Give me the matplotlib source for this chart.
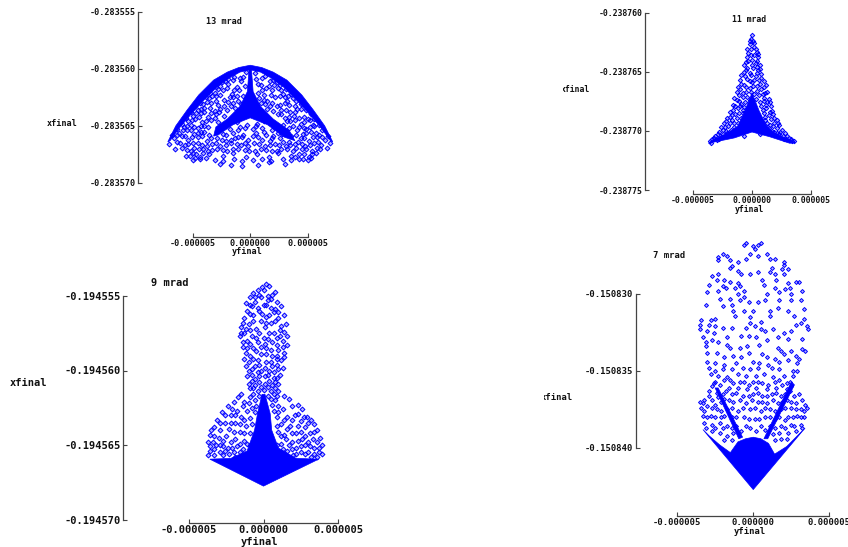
import matplotlib
matplotlib.use('Agg')
import matplotlib.pyplot as plt
import numpy as np
from matplotlib.transforms import Bbox

W, H = 848, 547
BLUE = '#0000ff'
AXC = '#444444'

# all point values below in units of 1e-6 (yfinal, xfinal - base)
base_13 = -0.283560
ticks_13 = [-0.283570, -0.283565, -0.283560, -0.283555]
arc_13 = [(-7.2,-6.4),(-6.5,-5.0),(-5.5,-3.6),(-4.5,-2.3),(-3.2,-1.0),(-2,-0.3),(-1,0.1),(0,0.3),(1,0.1),(2,-0.3),(3.2,-1.0),(4.5,-2.3),(5.5,-3.6),(6.5,-5.0),(7.2,-6.4),
          (7.0,-6.3),(6.2,-5.2),(5.1,-3.9),(4.1,-2.8),(2.9,-1.6),(1.8,-0.8),(0.9,-0.3),(0,-0.1),(-0.9,-0.3),(-1.8,-0.8),(-2.9,-1.6),(-4.1,-2.8),(-5.1,-3.9),(-6.2,-5.2),(-7.0,-6.3)]
core_13 = [(-0.1,0),(0.1,0),(0.25,-2.0),(0.9,-3.3),(2.0,-4.4),(3.4,-5.4),(3.9,-6.3),(3.0,-6.0),(1.5,-4.9),(0,-4.3),(-1.5,-4.9),(-2.8,-5.8),(-3.2,-5.9),(-3.0,-5.1),(-2.0,-4.4),(-0.9,-3.3),(-0.25,-2.0)]
pts_13 = [(-2.6,-1.5),(-1.9,-1.3),(-1.2,-1.6),(-0.8,-1.1),(0.9,-1.4),(1.4,-1.7),(2.1,-1.4),(2.7,-1.9),
(-3.1,-2.1),(-2.4,-1.9),(-1.6,-2.2),(-1.0,-1.9),(0.7,-2.1),(1.2,-2.3),(1.9,-1.9),(2.9,-2.2),(3.3,-2.4),
(-3.6,-2.6),(-3.0,-2.4),(-2.3,-2.7),(-1.8,-2.5),(-1.1,-2.8),(-0.6,-2.4),(0.8,-2.6),(1.5,-2.8),(2.2,-2.5),(3.2,-2.8),(3.7,-2.6),
(-4.1,-3.1),(-3.4,-3.0),(-2.8,-3.2),(-1.5,-3.0),(-0.8,-3.1),(0.9,-3.0),(1.3,-3.1),(2.6,-3.2),(3.0,-3.0),(3.9,-3.3),
(-4.6,-3.6),(-4.0,-3.4),(-3.1,-3.7),(-2.6,-3.5),(-2.0,-3.6),(-1.3,-3.4),(1.5,-3.5),(2.0,-3.7),(2.7,-3.6),(3.5,-3.8),(4.4,-3.5),
(-5.0,-4.1),(-4.3,-3.9),(-3.7,-4.2),(-3.0,-4.0),(-2.3,-4.1),(2.4,-4.0),(3.0,-4.3),(3.8,-4.1),(4.7,-4.2),
(-5.4,-4.6),(-4.8,-4.4),(-4.2,-4.7),(-3.4,-4.5),(-2.8,-4.7),(-1.2,-4.7),(-0.3,-4.9),(0.6,-4.8),(1.2,-4.6),(2.9,-4.9),(3.5,-4.6),(4.4,-4.8),(5.2,-4.5),
(-5.8,-5.1),(-5.2,-4.9),(-4.6,-5.2),(-4.0,-5.0),(-1.8,-5.3),(-0.9,-5.1),(0.2,-5.3),(1.0,-5.2),(1.9,-5.4),(3.4,-5.2),(4.3,-5.1),(4.9,-5.3),(5.6,-5.0),
(-6.2,-5.6),(-5.5,-5.4),(-4.9,-5.7),(-4.3,-5.5),(-2.4,-5.7),(-1.5,-5.6),(-0.6,-5.8),(0.5,-5.6),(1.4,-5.8),(2.4,-5.6),(4.6,-5.7),(5.3,-5.5),(6.0,-5.8),
(-6.7,-6.1),(-6.0,-5.9),(-5.4,-6.2),(-4.6,-6.0),(-3.8,-6.3),(-2.9,-6.1),(-2.1,-6.3),(-1.1,-6.0),(-0.2,-6.2),(0.7,-6.0),(1.7,-6.3),(2.6,-6.1),(3.4,-6.4),(4.4,-6.1),(5.1,-6.3),(5.8,-6.0),(6.5,-6.2),
(-7.1,-6.6),(-6.4,-6.4),(-5.7,-6.7),(-5.0,-6.5),(-4.2,-6.7),(-3.3,-6.6),(-2.6,-6.8),(-1.7,-6.5),(-0.8,-6.7),(0.3,-6.5),(1.3,-6.8),(2.2,-6.6),(3.1,-6.8),(3.9,-6.6),(4.8,-6.8),(5.6,-6.5),(6.2,-6.7),(7.0,-6.5),
(-6.6,-7.0),(-6.0,-6.9),(-5.2,-7.2),(-4.5,-7.0),(-3.7,-7.2),(-2.9,-7.0),(-2.0,-7.2),(-1.1,-7.0),(-0.1,-7.2),(0.9,-7.0),(1.9,-7.2),(2.7,-7.0),(3.7,-7.2),(4.5,-7.0),(5.4,-7.2),(6.1,-7.0),(6.7,-6.9),
(-5.6,-7.6),(-5.0,-7.4),(-4.4,-7.7),(-3.6,-7.5),(-2.4,-7.6),(-1.5,-7.4),(-0.4,-7.7),(0.6,-7.5),(1.6,-7.7),(2.4,-7.4),(3.6,-7.6),(4.3,-7.5),(5.1,-7.7),(5.7,-7.4),
(-5.0,-8.0),(-4.4,-7.9),(-3.1,-8.0),(-2.4,-8.1),(-1.4,-7.9),(-0.7,-8.1),(0.2,-8.0),(1.0,-7.9),(1.8,-8.1),(2.9,-7.9),(3.6,-8.0),(4.3,-7.9),(5.0,-8.0),
(-2.6,-8.3),(-1.7,-8.4),(-0.7,-8.5),(0.7,-8.4),(1.6,-8.2),(3.0,-8.3),(0.5,-0.9),(-0.6,-0.7),(0.7,-1.3),(-0.5,-1.5)]
more_13 = [(-0.4,-0.3),(0.4,-0.4),(-1.4,-0.7),(1.3,-0.6),(-1.9,-0.9),(2.0,-1.0),(-2.5,-1.2),(2.6,-1.4),(-3.0,-1.6),(3.1,-1.8),(-3.5,-2.1),(3.6,-2.2),(-3.9,-2.5),(4.0,-2.8),(-4.4,-3.0),(4.4,-3.1),(-4.8,-3.3),(4.9,-3.6),(-5.2,-3.8),(5.3,-4.0),(-5.6,-4.3),(5.6,-4.4),(-6.0,-4.8),(6.0,-4.9),(-6.4,-5.3),(6.3,-5.4),(-6.8,-5.8),(6.8,-5.9),
(-2.2,-1.1),(-1.5,-1.0),(-0.9,-0.8),(1.0,-0.8),(1.7,-1.1),(2.3,-1.2),(-2.8,-1.8),(-2.0,-1.7),(-1.4,-1.9),(1.6,-1.5),(2.4,-1.7),(3.0,-2.5),(-3.3,-2.4),(-2.6,-2.3),(-1.5,-2.5),(1.0,-1.9),(1.8,-2.3),(2.6,-2.4),(-3.8,-2.9),(-3.0,-2.8),(-1.9,-2.9),(-1.2,-2.4),(1.2,-2.7),(1.9,-3.0),(3.4,-3.2),(4.1,-3.5),(-4.3,-3.5),(-3.5,-3.4),(-2.3,-3.3),(-1.7,-3.3),(1.7,-3.3),(2.3,-3.3),(3.1,-3.6),(3.9,-3.8),(-4.7,-3.9),(-4.0,-3.8),(-3.4,-3.9),(-2.7,-3.8),(2.7,-4.0),(3.4,-4.2),(4.3,-4.3),(5.0,-4.4),(-5.1,-4.5),(-4.5,-4.2),(-3.9,-4.6),(-3.1,-4.3),(3.2,-4.6),(3.9,-4.5),(4.7,-4.7),(5.5,-4.9),
(-5.5,-5.0),(-4.9,-5.1),(-4.3,-5.0),(-3.7,-5.1),(3.7,-5.0),(4.1,-5.4),(4.7,-5.2),(5.2,-5.1),(-5.9,-5.4),(-5.2,-5.4),(-4.6,-5.6),(-4.0,-5.5),(4.0,-5.8),(4.9,-5.6),(5.7,-5.6),(-6.4,-5.8),(-5.7,-5.9),(-5.1,-6.0),(-4.2,-5.9),(-3.6,-5.8),(3.6,-5.9),(4.7,-6.1),(5.5,-6.0),(6.3,-6.0),
(-1.1,-5.4),(-0.5,-5.2),(0.5,-5.0),(1.2,-5.5),(2.0,-5.9),(2.8,-5.7),(-2.1,-5.8),(-1.3,-6.1),(-0.7,-6.0),(0.2,-5.9),(1.0,-6.2),(1.9,-6.1),(2.9,-6.4),(-3.4,-6.1),(-2.5,-6.2),(-1.7,-6.2),(-0.5,-6.5),(0.8,-6.6),(1.7,-6.7),(2.5,-6.7),(-3.0,-6.5),(-2.1,-6.7),(-1.2,-6.6),(-0.2,-6.8),(3.5,-6.7),(4.2,-6.4),(4.5,-6.6),(5.2,-6.7),(5.9,-6.4),(-6.1,-6.5),(-5.4,-6.6),(-4.6,-6.5),(-3.8,-6.8),(-5.5,-7.1),(-4.9,-6.9),(-4.1,-7.0),(-3.3,-7.1),(-2.4,-7.1),(-1.5,-7.0),(-0.5,-7.1),(0.4,-7.2),(1.4,-7.1),(2.3,-7.2),(3.2,-7.0),(4.0,-6.9),(4.9,-7.0),(5.8,-6.9),(-5.3,-7.6),(-4.7,-7.5),(-4.1,-7.4),(-4.8,-7.8),(-3.9,-7.8),(3.9,-7.7),(4.7,-7.5),(5.4,-7.5),(4.6,-7.9),(5.3,-7.8)]

base_11 = -0.238770
ticks_11 = [-0.238775, -0.238770, -0.238765, -0.238760]
core_11 = [(0,3.2),(0.6,1.7),(1.2,0.5),(1.8,-0.1),(2.6,-0.5),(3.7,-1.0),(3.2,-1.05),(1.5,-0.5),(0,-0.1),(-1.5,-0.6),(-3.7,-1.05),(-3.3,-0.75),(-2.1,-0.2),(-1.2,0.4),(-0.6,1.7)]
pts_11 = [(0,8.1),(-0.1,7.8),(0.1,7.6),(-0.2,7.3),(0.2,7.1),(-0.1,6.9),(0.4,6.7),(-0.3,6.6),(0.2,6.4),(-0.4,6.2),(0.5,6.2),(0,6.0),(-0.3,5.9),(0.3,5.7),(-0.7,5.6),(0.7,5.6),(-0.4,5.3),(0.1,5.3),(0.5,5.1),(-0.7,5.0),(-0.2,4.9),(0.8,4.8),(-0.9,4.7),
(0.3,4.6),(-0.4,4.4),(0.6,4.3),(-1.0,4.3),(1.0,4.2),(0,4.1),(-0.7,3.9),(0.4,3.8),(1.2,3.9),(-1.2,3.7),(-0.2,3.6),(0.8,3.5),(1.3,3.3),(-1.3,3.3),(-0.8,3.2),(0.2,3.1),(0.6,3.0),(-0.4,2.9),(1.0,2.8),(-1.5,2.8),(1.4,2.7),(-1.1,2.5),(-0.6,2.4),(0.7,2.4),(1.2,2.2),(-1.6,2.2),(1.6,2.1),
(-1.2,1.9),(-0.8,1.8),(0.9,1.8),(1.5,1.6),(-1.9,1.6),(-1.4,1.4),(1.8,1.4),(1.1,1.2),(-0.9,1.1),(-2.1,1.1),(1.6,1.0),(2.1,0.9),(-1.7,0.9),(-1.2,0.7),(1.3,0.7),(-2.4,0.7),(2.3,0.5),(1.8,0.4),(-2.0,0.4),(-1.5,0.3),(-2.6,0.3),(1.4,0.2),(2.5,0.1),(-2.2,0.0),(-1.3,0.0),(1.9,-0.1),(-2.8,-0.1),(-1.8,-0.2),(2.8,-0.2),(2.3,-0.3),(-2.5,-0.3),
(-3.1,-0.4),(3.0,-0.4),(-0.7,-0.4),(0.7,-0.3),(3.3,-0.7),(-3.4,-0.7),(-2.8,-0.7),(2.7,-0.7),(3.6,-0.9),(-3.6,-0.9)]
more_11 = [(-0.2,7.6),(0.2,7.4),(0.3,6.9),(-0.4,6.9),(-0.1,6.4),(0.5,6.5),(-0.5,5.8),(0.4,5.9),(0.0,5.6),(0.4,5.4),(-0.5,5.1),(0.7,5.2),(-0.1,4.7),(0.4,4.9),(-0.6,4.6),(0.8,4.5),(0.2,4.3),(-0.2,4.2),(-0.9,4.0),(0.7,4.0),(0.1,3.8),(-0.5,3.7),(1.0,3.7),(-1.0,3.5),(0.4,3.4),(-0.1,3.3),(-0.5,3.3),(1.1,3.2),(-1.1,3.0),(0.9,3.1),(-0.8,2.9),(-1.3,2.6),(0.3,2.7),(1.3,2.4),(-0.2,2.6),(-0.9,2.3),(1.0,2.5),(-1.4,2.1),(0.8,2.1),(1.5,2.4),(-0.7,2.0),(-1.0,2.1),(1.7,1.7),(-1.6,1.8),(1.2,1.9),(-1.7,1.3),(-0.8,1.5),(1.0,1.5),(-1.1,1.5),(1.9,1.1),(1.4,1.3),(-1.3,1.1),(-1.9,1.2),(-1.9,0.7),(-1.5,0.7),(1.9,0.7),(1.1,0.9),(-2.2,0.8),(2.2,0.7),(1.5,0.5),(-2.3,0.3),(-1.8,0.1),(2.1,0.2),(1.7,0.0),(2.4,-0.1),(-2.5,0.1),(-2.1,-0.2),(-2.9,-0.3),(2.6,-0.4),(2.1,-0.2),(3.1,-0.6),(-3.2,-0.6),(-2.6,-0.5),(2.9,-0.7),(-3.0,-0.8),(3.4,-0.9),(-3.5,-1.0)]

base_9 = -0.194560
ticks_9 = [-0.194570, -0.194565, -0.194560, -0.194555]
stem_9 = [(-0.1,-1.6),(0.1,-1.6),(0.45,-2.9),(0.55,-4.0),(1.0,-5.2),(2.2,-5.9),(3.7,-5.95),(0,-7.76),(-3.6,-5.95),(-2.2,-5.9),(-1.1,-5.4),(-0.6,-4.0),(-0.4,-2.9)]
pts_9 = [(0.2,5.8),(0.4,5.7),(-0.1,5.6),(-0.4,5.4),(-0.7,5.2),(0.6,5.1),(0.8,5.3),(-0.9,4.9),(-0.2,4.9),(0.3,4.7),(-1.2,4.5),(-0.6,4.6),(0.9,4.6),(-0.8,4.3),(0.0,4.4),(0.5,4.2),(1.2,4.3),(-1.1,4.0),(-0.3,4.0),(0.7,3.9),(1.4,3.7),(-0.7,3.7),(0.2,3.6),(-1.3,3.5),(1.0,3.5),(-0.2,3.3),(0.5,3.2),(1.5,3.1),(-1.0,3.1),(-1.5,2.9),(-0.5,2.8),(0.1,2.9),(1.1,2.7),(0.7,2.5),(-1.3,2.5),(-1.6,2.3),(-0.8,2.3),(1.6,2.3),(0.0,2.2),(-1.1,2.0),(1.3,2.0),(-0.4,1.9),(0.6,1.9),(1.6,1.7),(-1.4,1.6),(-0.7,1.5),(0.2,1.5),(1.0,1.4),(-1.2,1.2),(1.4,1.2),(-0.2,1.1),(0.6,1.0),(-1.3,0.8),(-0.7,0.8),(1.2,0.7),(0.2,0.6),(-0.3,0.4),(0.9,0.4),(-1.2,0.3),(1.3,0.2),(-0.8,0.1),(0.4,0.0),(-0.4,-0.1),(1.1,-0.3),(-1.1,-0.4),(0.7,-0.5),(-0.6,-0.6),(0.1,-0.4),(-1.0,-0.9),(1.0,-0.9),(0.6,-1.0),(-0.7,-1.2),(-1.5,-1.6),(-1.7,-1.8),(-2.0,-2.1),(-1.3,-2.1),(1.4,-1.7),(1.7,-1.9),(1.0,-1.4),(0.8,-2.0),(-0.9,-1.8),(2.3,-2.3),(1.9,-2.4),(1.3,-2.6),(2.6,-2.6),
(-2.4,-2.4),(-1.8,-2.7),(-1.1,-2.7),(-2.8,-2.8),(-2.2,-3.0),(-1.5,-3.1),(-0.9,-3.2),(0.9,-3.1),(1.6,-3.1),(2.1,-3.0),(2.9,-3.1),(3.2,-3.3),(2.5,-3.4),(-3.1,-3.3),(-2.6,-3.5),(-1.9,-3.5),(-1.2,-3.7),(1.2,-3.6),(1.8,-3.7),(3.4,-3.6),(2.8,-3.8),(-3.3,-3.8),(-2.9,-4.0),(-2.3,-3.9),(-1.6,-4.1),(-0.9,-4.2),(1.0,-4.1),(2.2,-4.2),(3.1,-4.2),(3.6,-4.0),(-3.6,-4.3),(-3.0,-4.5),(-2.5,-4.4),(-1.9,-4.6),(-1.3,-4.7),(1.5,-4.6),(1.9,-4.8),(2.6,-4.6),(3.3,-4.6),(3.8,-4.5),(-3.7,-4.8),(-3.2,-5.0),(-2.7,-5.1),(-2.1,-5.2),(2.2,-5.2),(2.8,-5.0),(3.4,-5.2),(3.9,-5.0),(-3.6,-5.4),(-2.9,-5.5),(-2.3,-5.6),(-1.6,-5.5),(1.6,-5.4),(2.5,-5.5),(3.0,-5.5),(3.7,-5.5),(-3.7,-5.7),(3.9,-5.6),(-0.9,-5.0),(0.9,-5.0),(-1.0,-5.6),(1.2,-4.9)]
more_9 = [(0.0,5.4),(-0.3,5.1),(0.3,5.0),(-0.6,4.9),(0.5,4.8),(-0.9,4.4),(0.2,4.4),(0.8,4.1),(-0.4,4.2),(1.0,3.9),(-0.9,3.8),(-0.1,3.8),(0.4,3.7),(-1.4,3.2),(0.8,3.3),(0.2,3.2),(-0.7,3.3),(1.2,3.0),(-1.2,2.8),(-0.3,2.5),(0.4,2.5),(1.4,2.6),(-1.5,2.5),(-0.9,2.7),(0.9,2.2),(-0.5,2.2),(0.3,2.1),(1.1,2.3),(-1.4,1.9),(-0.9,1.8),(0.1,1.8),(0.9,1.7),(-0.2,1.6),(1.3,1.6),(-1.1,1.5),(0.5,1.4),(1.4,0.9),(-0.9,1.0),(0.2,1.1),(0.9,1.0),(-0.5,1.3),(-1.0,0.6),(-0.4,0.7),(0.5,0.6),(0.9,0.8),(-0.6,0.3),(0.1,0.2),(0.6,0.3),(1.0,0.1),(-1.0,0.0),(-0.2,0.0),(0.7,-0.1),(-0.8,-0.3),(0.3,-0.3),(0.9,-0.5),(-0.3,-0.4),(-0.8,-0.7),(0.4,-0.7),(-0.3,-0.8),(0.8,-0.8),(0.1,-0.9),(-0.6,-1.0),(-0.2,-1.1),(0.3,-1.1),(0.8,-1.2),(-0.9,-1.2),(-0.4,-1.4),(0.5,-1.4),(0.0,-1.3),(-0.7,-1.6),(0.7,-1.6),(-0.3,-1.7),(0.3,-1.7),(-0.6,-2.0),(0.5,-1.9),(0.9,-1.7),(-1.0,-2.2),(-0.5,-2.4),(0.6,-2.3),(1.0,-2.4),(-0.8,-2.5),(0.7,-2.7),(-0.6,-2.8),(1.0,-2.8),(-1.4,-2.4),(-2.1,-2.6),(-2.6,-3.0),(-1.9,-3.0),(-1.3,-3.3),(-0.8,-3.6),(1.4,-3.3),(1.9,-3.3),(2.3,-2.9),(2.7,-3.1),(3.0,-3.5),(2.3,-3.7),(1.6,-3.9),(0.9,-3.7),(-2.9,-3.5),(-2.2,-3.5),(-1.6,-3.6),(-3.5,-4.0),(-2.0,-4.1),(-1.3,-4.2),(1.4,-4.3),(1.9,-4.2),(2.5,-4.1),(3.4,-4.1),(2.8,-4.4),(-3.3,-4.4),(-2.7,-4.7),(-2.2,-4.8),(-1.6,-4.9),(-1.1,-4.9),(1.2,-4.4),(1.7,-5.0),(2.3,-4.7),(3.0,-4.8),(3.6,-4.8),(-3.4,-4.8),(-3.6,-5.1),(-2.9,-5.0),(-2.4,-5.2),(-1.8,-5.1),(1.9,-5.3),(2.5,-5.1),(3.1,-5.1),(3.7,-5.2),(-3.3,-5.3),(-2.6,-5.4),(-2.0,-5.5),(-1.4,-5.3),(1.3,-5.3),(2.2,-5.6),(2.8,-5.6),(3.4,-5.6),(-3.3,-5.7),(-2.7,-5.7),(-1.9,-5.8),(2.0,-5.7),(3.2,-5.8),(3.6,-5.8)]

base_7 = -0.150835
ticks_7 = [-0.150840, -0.150835, -0.150830]
core_7 = [(-3.3,-3.8),(-2.9,-4.2),(-2.2,-4.8),(-1.5,-5.3),(-1.0,-4.6),(-0.5,-4.4),(0,-4.3),(0.5,-4.4),(1.0,-4.7),(1.4,-5.4),(2.2,-4.9),(3.0,-4.1),(3.4,-3.7),(0,-7.7)]
vee_7 = [(-2.5,-1.1),(-2.3,-1.1),(-0.7,-4.3),(-0.95,-4.4)]
vee2_7 = [(2.5,-0.7),(2.7,-0.9),(0.95,-4.4),(0.7,-4.4)]
pts_7 = [(-0.6,8.2),(-0.5,8.3),(0,8.1),(0.3,8.2),(0.5,8.3),(0.1,7.9),(-2.3,7.4),(-1.7,7.5),(-2.0,7.6),(-0.2,7.6),(0.3,7.5),(0.9,7.6),(1.1,7.3),(1.4,7.3),(-2.3,7.2),(-1.5,7.2),(-1.0,7.1),(2.0,7.1),(-0.5,7.3),(2.0,6.9),(-1.4,6.8),(-1.5,6.7),(1.2,6.7),(1.9,6.6),(2.3,6.6),(-1.0,6.5),(-0.8,6.3),(-0.2,6.3),(0.3,6.4),(-2.7,6.2),(-2.3,6.3),(1.1,6.4),(1.4,6.3),(2.0,6.3),(-2.4,5.9),(-1.9,5.9),(-1.5,5.8),(-1.0,5.7),(-0.9,5.5),(0.6,5.9),(0.7,5.6),(1.5,5.9),(2.3,5.7),(2.8,5.8),(3.0,5.8),(-2.9,5.6),(-2.0,5.5),(-1.8,5.4),(-1.2,5.4),(-0.6,5.2),(1.4,5.4),(2.1,5.3),(2.4,5.4),(-3.0,5.1),(-2.3,5.2),(-1.0,5.0),(-0.6,4.8),(0.9,5.0),(1.7,5.1),(2.5,5.0),(3.2,5.2),(-2.2,4.7),(-1.5,4.7),(-0.9,4.6),(-0.3,4.5),(0.3,4.5),(0.8,4.6),(1.7,4.6),(2.5,4.6),(3.1,4.6),(-3.1,4.3),(-2.0,4.2),(-1.4,4.3),(-1.3,3.9),(-0.6,3.9),(0,3.9),(1.1,3.9),(1.6,4.1),(2.3,3.9),(3.3,4.0),(-1.2,3.6),(-0.2,3.5),(1.1,3.6),(2.7,3.6),(3.3,3.4),(-3.4,3.3),(-2.8,3.3),(-2.5,3.4),(-3.5,3.0),(-2.9,3.0),(-0.2,3.1),(0.1,2.9),(0.5,3.2),(-0.5,2.8),(2.8,3.0),(3.1,3.1),(3.5,2.9),(-3.5,2.7),(-3.0,2.6),(-2.5,2.9),(-2.6,2.5),(-2.0,2.8),(-1.4,2.8),(-0.8,2.3),(0.5,2.7),(0.8,2.6),(1.3,2.7),(2.0,2.5),(2.5,2.6),(3.6,2.7),(-3.3,2.2),(-3.1,1.9),(-2.7,2.0),(-1.7,2.2),(-0.3,2.3),(0.2,2.2),(0.9,2.0),(1.6,2.2),(2.3,2.1),(3.2,2.1),
(-3.1,1.6),(-2.3,1.9),(-1.7,1.7),(-1.5,1.5),(-0.9,1.5),(-0.4,1.6),(0.4,1.7),(1.6,1.5),(1.8,1.3),(2.5,1.3),(3.2,1.4),(3.4,1.3),(-3.0,1.2),(-2.4,1.2),(-1.9,0.9),(-1.3,1.0),(-0.8,0.9),(-0.3,1.2),(0.6,1.1),(0.9,0.9),(1.4,0.8),(2.0,1.1),(2.8,1.0),(3.0,0.8),(-3.0,0.6),(-2.5,0.5),(-1.9,0.4),(-1.1,0.5),(0.0,0.6),(0.4,0.5),(1.0,0.4),(1.7,0.6),(2.3,0.7),(2.9,0.5),(-2.9,0.2),(-2.5,0.0),(-2.0,0.1),(-1.4,0.1),(-0.7,0.2),(-0.2,0.1),(0.3,0.2),(1.2,0.2),(1.7,0.1),(2.6,0.0),(2.9,0.0),(-2.8,-0.2),(-2.3,-0.3),(-1.7,-0.4),(-1.0,-0.2),(-0.5,-0.3),(0.2,-0.3),(0.7,-0.2),(1.3,-0.4),(2.0,-0.3),(2.6,-0.3),(-2.5,-0.7),(-1.9,-0.6),(-1.3,-0.8),(-0.6,-0.7),(0,-0.7),(0.6,-0.8),(1.4,-0.7),(1.9,-0.9),(2.4,-0.7),(-2.7,-1.0),(-1.6,-1.1),(-1.0,-1.1),(-0.4,-1.2),(0.2,-1.1),(0.9,-1.2),(1.5,-1.1),(2.2,-1.2),(2.5,-1.0),(-2.9,-1.3),(-2.4,-1.4),(-2.0,-1.5),(-1.4,-1.5),(-0.7,-1.6),(0,-1.5),(0.6,-1.6),(1.2,-1.5),(1.8,-1.6),(2.7,-1.6),(-3.2,-1.9),(-2.7,-1.9),(-2.1,-2.0),(-1.3,-2.0),(-0.5,-2.1),(0.3,-2.0),(0.9,-2.1),(1.9,-2.0),(2.5,-2.0),(3.2,-1.9),(-3.4,-2.4),(-3.0,-2.3),(-2.4,-2.5),(-1.7,-2.5),(-1.0,-2.6),(-0.2,-2.5),(0.5,-2.6),(1.1,-2.5),(1.8,-2.5),(2.5,-2.4),(3.1,-2.5),(3.5,-2.4),(-3.3,-2.9),(-2.8,-2.9),(-2.1,-3.0),(-1.4,-3.0),(-0.6,-3.0),(0.1,-3.1),(0.8,-3.0),(1.4,-3.1),(2.3,-3.0),(2.9,-2.9),(3.3,-3.0),(-3.2,-3.4),(-2.7,-3.5),(-2.2,-3.4),(-1.7,-3.6),(-1.1,-3.6),(-0.5,-3.6),(0.5,-3.6),(1.1,-3.6),(1.8,-3.6),(2.5,-3.5),(3.1,-3.5)]
more_7 = [(-2.6,-0.8),(-2.2,-0.9),(-1.5,-0.6),(-0.9,-0.7),(-0.3,-0.9),(0.3,-0.7),(1.0,-0.9),(1.7,-0.6),(2.2,-0.8),(-2.9,-1.6),(-2.3,-1.7),(-1.8,-1.3),(-1.1,-1.4),(-0.3,-1.6),(0.3,-1.4),(0.9,-1.6),(1.5,-1.4),(2.1,-1.5),(2.4,-1.3),(3.0,-1.5),(-3.5,-2.0),(-3.3,-2.1),(-2.5,-2.2),(-1.9,-1.8),(-1.6,-1.9),(-0.9,-1.9),(-0.1,-1.9),(0.6,-2.0),(1.3,-1.9),(1.6,-2.1),(2.2,-1.9),(2.8,-2.1),(3.4,-2.2),(-3.2,-2.6),(-2.7,-2.4),(-2.1,-2.6),(-1.4,-2.4),(-0.7,-2.4),(0.1,-2.4),(0.8,-2.4),(1.4,-2.6),(2.1,-2.4),(2.8,-2.5),(3.3,-2.6),(-3.0,-3.0),(-2.5,-3.0),(-1.9,-2.9),(-1.1,-3.0),(-0.3,-3.1),(0.4,-3.1),(1.1,-3.0),(1.7,-3.0),(2.1,-3.2),(2.6,-3.0),(3.1,-3.0),(-3.1,-3.7),(-2.5,-3.7),(-2.0,-3.7),(-1.4,-3.7),(-0.8,-3.9),(-0.2,-3.7),(0.2,-3.9),(0.8,-3.8),(1.4,-3.7),(2.1,-3.7),(2.7,-3.6),(3.2,-3.7),(-2.7,-3.9),(-2.2,-4.0),(-1.7,-4.2),(-1.3,-4.0),(1.3,-4.1),(1.7,-4.0),(2.3,-4.0),(2.8,-3.9),(-1.9,-4.5),(-1.4,-4.5),(1.4,-4.5),(1.8,-4.4),(2.2,-4.4)]


def to_fig(px, py):
    return px / W, 1 - py / H


def panel(box, spine_x, spine_y, ticks, base, pts, fills, fs, ms):
    # box is (x at -5e-6, x at +5e-6, y at top tick, y at bottom tick) in pixels
    x0, x1, ytop, ybot = box
    ax = fig.add_axes([x0 / W, 1 - ybot / H, (x1 - x0) / W, (ybot - ytop) / H])
    ax.patch.set_visible(False)
    for poly in fills:
        p = np.array(poly)
        ax.fill(p[:, 0] * 1e-6, base + p[:, 1] * 1e-6, color=BLUE, lw=0.5, clip_on=False)
    p = np.array(pts)
    ax.scatter(p[:, 0] * 1e-6, base + p[:, 1] * 1e-6, s=ms, marker='D', facecolors=(0, 0, 1, 0.3),
               edgecolors=BLUE, linewidths=0.7, clip_on=False)
    ax.set_xlim(-5e-6, 5e-6)
    ax.set_ylim(ticks[0], ticks[-1])
    ax.set_xticks([-5e-6, 0, 5e-6])
    ax.set_xticklabels(['-0.000005', '0.000000', '0.000005'])
    ax.set_yticks(ticks)
    ax.set_yticklabels(['%.6f' % t for t in ticks])
    for s in ['top', 'right']:
        ax.spines[s].set_visible(False)
    ax.spines['left'].set_position(('outward', (x0 - spine_x) * 72 / 100))
    ax.spines['bottom'].set_position(('outward', (spine_y - ybot) * 72 / 100))
    for s in ['left', 'bottom']:
        ax.spines[s].set_color(AXC)
        ax.spines[s].set_linewidth(0.9)
    ax.tick_params(direction='in', length=3, width=0.8, color=AXC, pad=1.5, labelsize=fs, labelcolor='#111111')
    for t in ax.get_xticklabels() + ax.get_yticklabels():
        t.set_fontfamily('DejaVu Sans Mono')
        t.set_fontweight('bold')
    return ax


def label(x, y, s, fs, ha='center', clip=None):
    fx, fy = to_fig(x, y)
    t = fig.text(fx, fy, s, ha=ha, va='center', fontsize=fs, family='DejaVu Sans Mono',
                 fontweight='bold', color='#111111')
    if clip is not None:
        t.set_clip_box(Bbox([[clip, 0], [W, H]]))
        t.set_clip_on(True)


fig = plt.figure(figsize=(W / 100, H / 100), dpi=100)

panel((193, 307.5, 11.5, 183), 137.5, 237, ticks_13, base_13, pts_13 + more_13, [arc_13, core_13], 6.1, 6)
panel((693, 811, 12.5, 190), 645, 194, ticks_11, base_11, pts_11 + more_11, [core_11], 5.9, 5)
panel((189, 338, 296, 519.5), 122.5, 523, ticks_9, base_9, pts_9 + more_9, [stem_9], 7.5, 6)
panel((677, 829.5, 294, 448), 635.5, 516, ticks_7, base_7, pts_7 + more_7, [core_7, vee_7, vee2_7], 6.4, 4)

label(223.5, 22, '13 mrad', 6.1)
label(62, 124, 'xfinal', 6.1)
label(247, 251.5, 'yfinal', 6.1)
label(749, 19, '11 mrad', 5.9)
label(590, 89, 'xfinal', 5.9, ha='right', clip=563)
label(749, 209, 'yfinal', 5.9)
label(170, 283, '9 mrad', 7.5)
label(28, 383, 'xfinal', 7.5)
label(259, 542, 'yfinal', 7.5)
label(669, 255, '7 mrad', 6.4)
label(573, 398, 'xfinal', 6.4, ha='right', clip=544)
label(750, 531, 'yfinal', 6.4)

fig.savefig('out.png', dpi=100)
